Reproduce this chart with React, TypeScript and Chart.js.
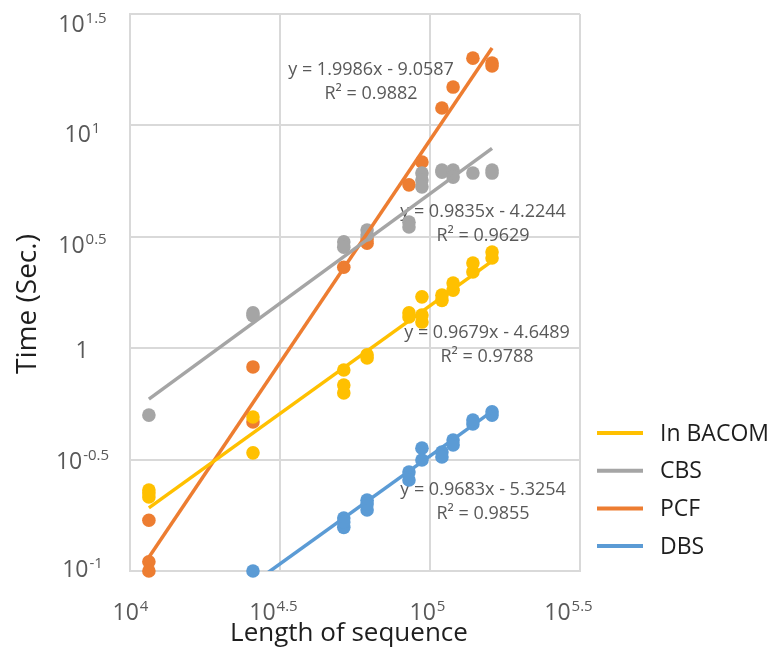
import React, { useEffect, useRef } from "react";
import { Chart, registerables } from "chart.js";

Chart.register(...registerables);

// ---------- data ----------
const seriesNames = ["In BACOM", "CBS", "PCF", "DBS"];
const seriesColors = ["#FFC000", "#A5A5A5", "#ED7D31", "#5B9BD5"];

// sequence lengths (x groups)
const lengths = [11560, 25700, 51600, 61700, 85100, 94000, 109600, 119400, 139000, 161000];

// times (sec.) per length group, per method
const bacomTimes = [
  [0.231, 0.215, 0.224], [0.491, 0.339], [0.798, 0.684, 0.63], [0.933, 0.904], [1.44, 1.38],
  [1.7, 1.41, 1.31], [1.73, 1.64], [1.96, 1.82], [2.41, 2.2], [2.7, 2.54],
];
const cbsTimes = [
  [0.501], [1.44, 1.4], [3.0, 2.84], [3.39, 3.22], [3.68, 3.5],
  [6.11, 5.69, 5.3], [6.31, 6.17], [6.31, 5.86], [6.11], [6.31, 6.11],
];
const pcfTimes = [
  [0.169, 0.11, 0.1], [0.824, 0.467], [2.31], [2.96, 3.09], [5.41],
  [6.85], [11.97], [14.86], [20.04], [19.05, 18.49],
];
const dbsTimes = [
  [], [0.1], [0.173, 0.157, 0.166], [0.208, 0.188, 0.2], [0.278, 0.256],
  [0.356, 0.315], [0.342, 0.325], [0.387, 0.368], [0.476, 0.457], [0.518, 0.501],
];

// power-law trendlines (log10 space): log y = slope * log x + intercept
const slopes = [0.9679, 0.9835, 1.9986, 0.9683];
const intercepts = [-4.6489, -4.2244, -9.0587, -5.3254];
const rSquared = [0.9788, 0.9629, 0.9882, 0.9855];

// axis tick exponents
const xTickExps = [4, 4.5, 5, 5.5];
const yTickExps = [-1, -0.5, 0, 0.5, 1, 1.5];

const xTitle = "Length of sequence";
const yTitle = "Time (Sec.)";

// ---------- styles ----------
const FONT = '"Open Sans", "DejaVu Sans", sans-serif';
const GRID = "#d9d9d9";
const TICK_COLOR = "#595959";
const TITLE_COLOR = "#1e1e1e";

// label placement (style)
const eqPos = [
  { x: 487, y: 338 },
  { x: 483, y: 217 },
  { x: 371, y: 75 },
  { x: 483, y: 495 },
];
const yLabelDy = [6, 9, 10, 16, 17, 18];
const xLabelDx = [0, -7, -3, -12];

const allTimes = [bacomTimes, cbsTimes, pcfTimes, dbsTimes];

function buildPoints(times: number[][]) {
  const pts: { x: number; y: number }[] = [];
  times.forEach((arr, i) => arr.forEach((t) => pts.push({ x: lengths[i], y: t })));
  return pts;
}

function buildTrend(si: number) {
  const used = lengths.filter((_, i) => allTimes[si][i].length > 0);
  const xs = [Math.min(...used), Math.max(...used)];
  return xs.map((x) => ({ x, y: Math.pow(10, slopes[si] * Math.log10(x) + intercepts[si]) }));
}

function drawPow(ctx: CanvasRenderingContext2D, exp: number, cx: number, baseline: number) {
  ctx.textBaseline = "alphabetic";
  ctx.textAlign = "left";
  if (exp === 0) {
    ctx.font = `23px ${FONT}`;
    const w = ctx.measureText("1").width;
    ctx.fillText("1", cx - w / 2, baseline);
    return;
  }
  const expStr = String(exp);
  ctx.font = `23px ${FONT}`;
  const wb = ctx.measureText("10").width;
  ctx.font = `15px ${FONT}`;
  const ws = ctx.measureText(expStr).width;
  const start = cx - (wb + ws) / 2;
  ctx.font = `23px ${FONT}`;
  ctx.fillText("10", start, baseline);
  ctx.font = `15px ${FONT}`;
  ctx.fillText(expStr, start + wb + 1, baseline - 9);
}

const overlayPlugin = {
  id: "overlay",
  beforeDatasetsDraw(chart: any) {
    const ctx: CanvasRenderingContext2D = chart.ctx;
    ctx.save();
    ctx.fillStyle = TICK_COLOR;
    ctx.font = `18px ${FONT}`;
    ctx.textAlign = "center";
    ctx.textBaseline = "alphabetic";
    seriesNames.forEach((_, i) => {
      const sign = intercepts[i] < 0 ? "-" : "+";
      const l1 = `y = ${slopes[i].toFixed(4)}x ${sign} ${Math.abs(intercepts[i]).toFixed(4)}`;
      const l2 = `R² = ${rSquared[i].toFixed(4)}`;
      ctx.fillText(l1, eqPos[i].x, eqPos[i].y);
      ctx.fillText(l2, eqPos[i].x, eqPos[i].y + 24);
    });
    ctx.restore();
  },
  afterDraw(chart: any) {
    const ctx: CanvasRenderingContext2D = chart.ctx;
    const xs = chart.scales.x;
    const ys = chart.scales.y;
    ctx.save();
    ctx.fillStyle = TICK_COLOR;
    yTickExps.forEach((e, i) => {
      const py = ys.getPixelForValue(Math.pow(10, e));
      drawPow(ctx, e, 82, py + yLabelDy[i]);
    });
    xTickExps.forEach((e, i) => {
      const px = xs.getPixelForValue(Math.pow(10, e));
      drawPow(ctx, e, px + xLabelDx[i], 620);
    });

    // axis titles
    ctx.fillStyle = TITLE_COLOR;
    ctx.font = `26px ${FONT}`;
    ctx.textAlign = "center";
    ctx.textBaseline = "alphabetic";
    ctx.fillText(xTitle, 349, 641);
    ctx.save();
    ctx.translate(28, 304);
    ctx.rotate(-Math.PI / 2);
    ctx.textBaseline = "middle";
    ctx.font = `28px ${FONT}`;
    ctx.fillText(yTitle, 0, 0);
    ctx.restore();

    // legend
    ctx.font = `23px ${FONT}`;
    ctx.textAlign = "left";
    ctx.textBaseline = "middle";
    seriesNames.forEach((name, i) => {
      const y = 433 + i * 37.7;
      ctx.strokeStyle = seriesColors[i];
      ctx.lineWidth = 4;
      ctx.beginPath();
      ctx.moveTo(597, y);
      ctx.lineTo(643, y);
      ctx.stroke();
      ctx.fillStyle = TITLE_COLOR;
      ctx.fillText(name, 660, y + 1);
    });
    ctx.restore();
  },
};

export default function App() {
  const ref = useRef<HTMLCanvasElement | null>(null);

  useEffect(() => {
    if (!ref.current) return;
    const trendSets = seriesNames.map((name, i) => ({
      type: "line" as const,
      label: name + " trend",
      data: buildTrend(i),
      borderColor: seriesColors[i],
      borderWidth: 3.5,
      pointRadius: 0,
      showLine: true,
      fill: false,
      order: 0,
    }));
    const pointSets = seriesNames.map((name, i) => ({
      type: "scatter" as const,
      label: name,
      data: buildPoints(allTimes[i]),
      backgroundColor: seriesColors[i],
      borderColor: seriesColors[i],
      borderWidth: 0,
      pointRadius: 6.8,
      clip: false as any,
      order: 1 + i,
    }));

    const chart = new Chart(ref.current, {
      type: "scatter",
      data: { datasets: [...trendSets, ...pointSets] as any },
      options: {
        animation: false,
        responsive: true,
        maintainAspectRatio: false,
        layout: { padding: { top: 14, right: 192, left: 0, bottom: 0 } },
        plugins: { legend: { display: false }, tooltip: { enabled: false } },
        scales: {
          x: {
            type: "logarithmic",
            min: Math.pow(10, xTickExps[0]),
            max: Math.pow(10, xTickExps[xTickExps.length - 1]),
            afterBuildTicks: (s: any) => {
              s.ticks = xTickExps.map((e) => ({ value: Math.pow(10, e) }));
            },
            afterFit: (s: any) => {
              s.height = 77;
            },
            ticks: { display: false },
            grid: { color: GRID, lineWidth: 2, drawTicks: false },
            border: { color: GRID, width: 2 },
          },
          y: {
            type: "logarithmic",
            min: Math.pow(10, yTickExps[0]),
            max: Math.pow(10, yTickExps[yTickExps.length - 1]),
            afterBuildTicks: (s: any) => {
              s.ticks = yTickExps.map((e) => ({ value: Math.pow(10, e) }));
            },
            afterFit: (s: any) => {
              s.width = 130;
            },
            ticks: { display: false },
            grid: { color: GRID, lineWidth: 2, drawTicks: false },
            border: { color: GRID, width: 2 },
          },
        },
      } as any,
      plugins: [overlayPlugin],
    });
    return () => chart.destroy();
  }, []);

  return (
    <div style={{ position: "fixed", left: 0, top: 0, width: 772, height: 648, background: "#fff" }}>
      <canvas ref={ref} />
    </div>
  );
}
